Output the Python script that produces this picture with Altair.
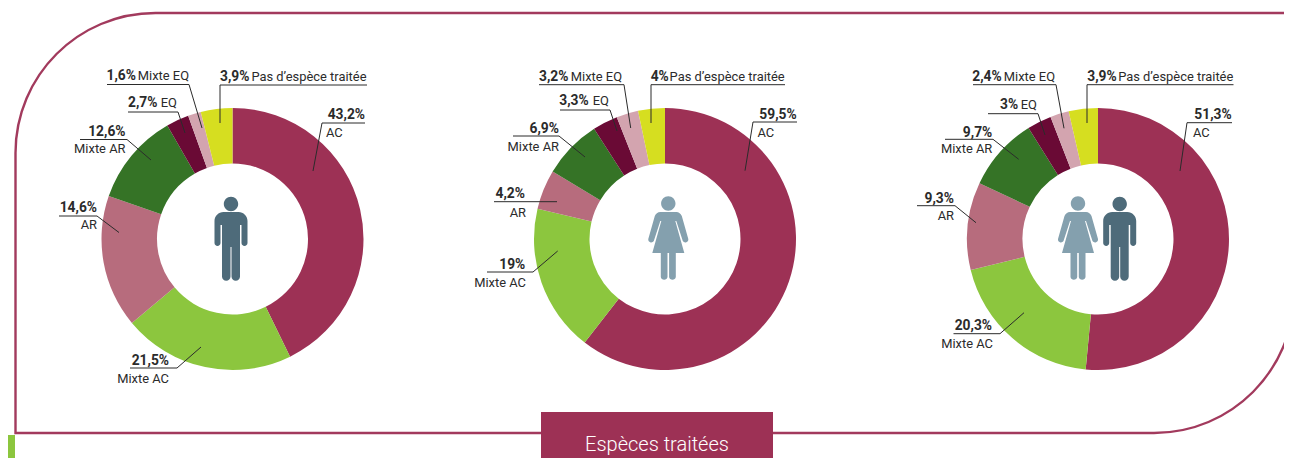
import altair as alt
import pandas as pd

categories = ["AC", "Mixte AC", "AR", "Mixte AR", "EQ", "Mixte EQ", "Pas d’espèce traitée"]
colors = ["#9d3155", "#8cc63e", "#b76c7d", "#357326", "#6a0a35", "#d3a4af", "#d6de20"]
# Slice sizes as measured on the drawn rings (the printed rings differ a little from their labels)
men = [42.8, 21.2, 16.4, 11.4, 2.8, 1.6, 3.9]
women = [60.5, 18.2, 4.9, 7.3, 3.1, 2.7, 3.3]
both = [51.5, 19.7, 10.8, 9.1, 3.0, 2.3, 3.6]
# Percentages as printed on the labels
men_txt = ["43,2%", "21,5%", "14,6%", "12,6%", "2,7%", "1,6%", "3,9%"]
women_txt = ["59,5%", "19%", "4,2%", "6,9%", "3,3%", "3,2%", "4%"]
both_txt = ["51,3%", "20,3%", "9,3%", "9,7%", "3%", "2,4%", "3,9%"]

OX, OY = 8, 8  # page margin
FONT = "Roboto"
W, H = 1276, 450
color_scale = alt.Scale(domain=categories, range=colors)


def donut(values, cx, cy=239, r=131, r0=75.5):
    df = pd.DataFrame({"cat": categories, "value": values, "idx": range(len(values))})
    return alt.Chart(df).mark_arc(radius=r, radius2=r0).encode(
        theta=alt.Theta("value:Q", stack=True),
        order=alt.Order("idx:Q"),
        color=alt.Color("cat:N", scale=color_scale, legend=None),
        x=alt.value(cx - OX),
        y=alt.value(cy - OY),
    )


# label layout, page coordinates, one entry per category:
# (bold anchor, bold baseline, name anchor, name baseline, bold align, name align, polyline)
layout_men = [
    (365, 119, 326, 137, "right", "left", [(365, 123), (322, 123), (313, 171)]),
    (169, 365, 169, 382.5, "right", "right", [(130, 368), (177, 368), (201, 347)]),
    (97, 212, 97, 229, "right", "right", [(59, 216), (97, 216), (119, 232.5)]),
    (125.5, 136, 125.5, 153, "right", "right", [(80, 139.5), (127, 139.5), (151, 160)]),
    (128, 107, 177, 107, "left", "right", [(128, 112), (178, 112), (185, 133)]),
    (106.5, 80, 189, 80, "left", "right", [(107, 84.5), (189, 84.5), (202, 128)]),
    (220, 80.5, 366.5, 80.5, "left", "right", [(367, 85), (220, 85), (220, 123)]),
]
layout_women = [
    (796.7, 118.7, 757.5, 137, "right", "left", [(797, 122), (753, 122), (745, 170.7)]),
    (525.3, 269, 526, 286.7, "right", "right", [(487, 272), (533, 272), (557.7, 251)]),
    (525, 198, 526, 216.7, "right", "right", [(494, 201.7), (557, 201.7)]),
    (559, 132.7, 559, 150.7, "right", "right", [(513, 136), (559, 136), (585, 157)]),
    (559.3, 105, 609, 105, "left", "right", [(560, 110), (610, 110), (617, 131)]),
    (539, 80.7, 622, 80.7, "left", "right", [(539, 84.7), (624, 84.7), (630.7, 128)]),
    (650.7, 81, 784.7, 81, "left", "right", [(785, 84.7), (651, 84.7), (651, 123)]),
]
layout_both = [
    (1231.7, 119.3, 1193, 137, "right", "left", [(1232, 122.7), (1187, 122.7), (1180, 171)]),
    (992, 330, 993, 348, "right", "right", [(953.5, 333.7), (1000, 333.7), (1024, 312.7)]),
    (954, 202.7, 954, 220, "right", "right", [(917, 205.7), (955, 205.7), (976, 222.7)]),
    (992.3, 136.7, 992.3, 152.7, "right", "right", [(945, 139.3), (993, 139.3), (1018.7, 159.3)]),
    (1000, 109.3, 1037, 109.3, "left", "right", [(988, 113.7), (1038, 113.7), (1045, 135)]),
    (972.3, 80.7, 1055, 80.7, "left", "right", [(973, 84.7), (1056, 84.7), (1064, 128.3)]),
    (1087.3, 81, 1233.3, 81, "left", "right", [(1233.5, 84.7), (1087, 84.7), (1087, 123)]),
]

bold_rows, name_rows, rule_rows = [], [], []
for texts, lay in ((men_txt, layout_men), (women_txt, layout_women), (both_txt, layout_both)):
    for cat, t, (bx, by, nx, ny, ba, na, poly) in zip(categories, texts, lay):
        bold_rows.append(dict(t=t, x=bx - OX, y=by - OY, a=ba))
        name_rows.append(dict(t=cat, x=nx - OX, y=ny - OY, a=na))
        for i, ((x1, y1), (x2, y2)) in enumerate(zip(poly[:-1], poly[1:])):
            rule_rows.append(dict(x=x1 - OX, x2=x2 - OX, y=y1 - OY, y2=y2 - OY))


def text_layer(rows, align, weight, size):
    df = pd.DataFrame([r for r in rows if r["a"] == align])
    return alt.Chart(df).mark_text(
        font=FONT, fontSize=size, fontWeight=weight, align=align, baseline="alphabetic", color="#2b2b2b"
    ).encode(x=alt.X("x:Q", scale=None), y=alt.Y("y:Q", scale=None), text="t:N")


rules = alt.Chart(pd.DataFrame(rule_rows)).mark_rule(color="#2b2b2b", strokeWidth=1).encode(
    x=alt.X("x:Q", scale=None), x2="x2:Q", y=alt.Y("y:Q", scale=None), y2="y2:Q"
)

# pictograms: outlines in pixels around the figure's centre, scaled to a unit symbol
UNIT = 42.0


def scaled(segments):
    out = []
    for s in segments:
        if s[0] in "ML":
            out.append(f"{s[0]}{s[1]/UNIT:.4f},{s[2]/UNIT:.4f}")
        elif s[0] == "A":
            out.append(f"A{s[1]/UNIT:.4f},{s[1]/UNIT:.4f} 0 {s[2]} 1 {s[3]/UNIT:.4f},{s[4]/UNIT:.4f}")
        else:
            out.append("Z")
    return " ".join(out)


def head(hy, r=7.2):
    return [("M", -r, hy), ("A", r, 1, r, hy), ("A", r, 1, -r, hy), ("Z",)]


man_path = scaled(head(-35) + [
    ("M", -16.5, -18), ("A", 9, 0, -7.5, -27), ("L", 7.5, -27), ("A", 9, 0, 16.5, -18),
    ("L", 16.5, 4), ("A", 3, 0, 10.5, 4), ("L", 10.5, -14), ("L", 9, -14), ("L", 9, 37.5),
    ("A", 4.25, 0, 0.5, 37.5), ("L", 0.5, 8), ("L", -0.5, 8), ("L", -0.5, 37.5),
    ("A", 4.25, 0, -9, 37.5), ("L", -9, -14), ("L", -10.5, -14), ("L", -10.5, 4),
    ("A", 3, 0, -16.5, 4), ("Z",),
])
woman_path = scaled(head(-35.5) + [
    ("M", -8, -27), ("L", 8, -27), ("A", 6, 0, 13.5, -23), ("L", 20, 0), ("A", 3, 0, 14.5, 2),
    ("L", 8, -18), ("L", 7, -18), ("L", 16, 14), ("L", 7.5, 14), ("L", 7.5, 38),
    ("A", 3.4, 0, 0.8, 38), ("L", 0.8, 14), ("L", -0.8, 14), ("L", -0.8, 38),
    ("A", 3.4, 0, -7.5, 38), ("L", -7.5, 14), ("L", -16, 14), ("L", -7, -18), ("L", -8, -18),
    ("L", -14.5, 2), ("A", 3, 0, -20, 0), ("L", -13.5, -23), ("A", 6, 0, -8, -27), ("Z",),
])


def icon(path, cx, fill, cy=239):
    return alt.Chart(pd.DataFrame({"k": [0]})).mark_point(
        shape=path, size=(2 * UNIT) ** 2, filled=True, fill=fill, opacity=1, strokeWidth=0
    ).encode(x=alt.value(cx - OX), y=alt.value(cy - OY))


def box(x, x2, y, y2, **kw):
    return alt.Chart(pd.DataFrame({"k": [0]})).mark_rect(**kw).encode(
        x=alt.value(x - OX), x2=alt.value(x2 - OX), y=alt.value(y - OY), y2=alt.value(y2 - OY)
    )


frame = box(15.5, 1294, 13, 433, fillOpacity=0, stroke="#a23a5d", strokeWidth=2.4,
            cornerRadiusTopLeft=140, cornerRadiusBottomRight=140)
tag = box(541, 773, 412, 470, fill="#9d3155")
page_tab = box(8, 15, 435, 470, fill="#8cc63e")
tag_text = alt.Chart(pd.DataFrame({"t": ["Espèces traitées"]})).mark_text(
    font=FONT, fontSize=20, fontWeight=300, align="center", baseline="alphabetic", color="white"
).encode(x=alt.value(657 - OX), y=alt.value(451 - OY), text="t:N")

chart = alt.layer(
    frame, page_tab, tag, tag_text,
    donut(men, 232.5), donut(women, 665), donut(both, 1098),
    rules,
    icon(man_path, 231, "#4e6b7a"), icon(woman_path, 668.3, "#84a0ae"),
    icon(woman_path, 1078, "#84a0ae"), icon(man_path, 1119.7, "#4e6b7a"),
    text_layer(bold_rows, "left", "bold", 13.8), text_layer(bold_rows, "right", "bold", 13.8),
    text_layer(name_rows, "left", "normal", 12.9), text_layer(name_rows, "right", "normal", 12.9),
).resolve_scale(theta="independent").properties(
    width=W, height=H, padding=0, autosize=alt.AutoSizeParams(type="none"),
    background="white",
).configure_view(stroke=None)

chart.save("out.html", embed_options={"renderer": "svg", "actions": False})
